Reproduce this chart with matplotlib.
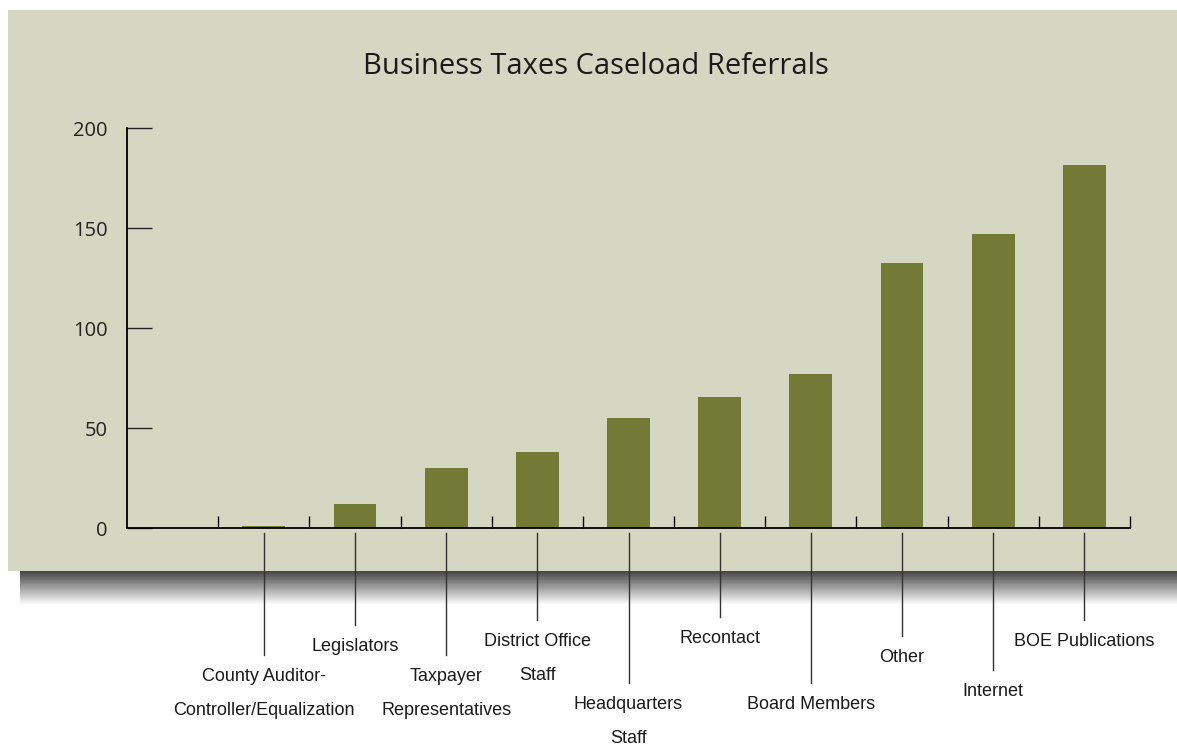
import matplotlib
matplotlib.use("Agg")
import matplotlib.pyplot as plt
import numpy as np

W, H = 1177, 750

# data
categories = ["County Auditor-\nController/Equalization", "Legislators", "Taxpayer\nRepresentatives",
              "District Office\nStaff", "Headquarters\nStaff", "Recontact", "Board Members",
              "Other", "Internet", "BOE Publications"]
values = [1, 12, 30, 38, 55, 65.5, 77, 132.5, 147, 181.5]
# where each leader line ends (pixel rows in the reference)
leader_end = [655, 625, 655, 620, 683, 617, 683, 636, 670, 620]
yticks = [0, 50, 100, 150, 200]

panel_color = "#d6d7c2"
bar_color = "#737a36"
narrow = ["Liberation Sans Narrow", "Liberation Sans", "DejaVu Sans"]

fig = plt.figure(figsize=(W / 100, H / 100), dpi=100)
fig.patch.set_facecolor("white")

# shadow under the panel
sh = fig.add_axes([20 / W, 1 - 605 / H, 1, 35 / H])
grad = np.linspace(0.25, 1.0, 50).reshape(-1, 1)
sh.imshow(grad, aspect="auto", cmap="gray", vmin=0, vmax=1, extent=[0, 1, 0, 1])
sh.set_axis_off()

# panel
bg = fig.add_axes([8 / W, 1 - 571 / H, 1, (571 - 10) / H])
bg.set_facecolor(panel_color)
bg.set_xticks([])
bg.set_yticks([])
for s in bg.spines.values():
    s.set_visible(False)

x0, x1, yb, yt = 127, 1130, 528, 128
ax = fig.add_axes([x0 / W, 1 - yb / H, (x1 - x0) / W, (yb - yt) / H])
ax.set_facecolor("none")
pos = np.arange(1, len(categories) + 1)
ax.bar(pos, values, width=0.47, color=bar_color, zorder=2)
ax.set_xlim(-0.5, 10.5)
ax.set_ylim(0, 200)

for s in ["top", "right"]:
    ax.spines[s].set_visible(False)
ax.spines["left"].set_linewidth(1.3)
ax.spines["bottom"].set_linewidth(1.3)

ax.set_yticks(yticks)
ax.tick_params(axis="y", direction="in", length=18, width=1.0, pad=14, labelsize=14.5, colors="#222222")
for t in ax.get_yticklabels():
    t.set_family(["Open Sans", "DejaVu Sans"])
ax.set_xticks(np.arange(0.5, 11, 1.0))
ax.set_xticklabels([])
ax.tick_params(axis="x", direction="in", length=9, width=1.0)

# leader lines and labels under the panel
for i, (lab, end) in enumerate(zip(categories, leader_end)):
    ya = (yb - 533) / (yb - yt)
    ye = (yb - end) / (yb - yt)
    ax.plot([pos[i], pos[i]], [ya, ye], color="#333333", lw=1.0,
            transform=ax.get_xaxis_transform(), clip_on=False)
    ax.text(pos[i], (yb - end - 13) / (yb - yt), lab, transform=ax.get_xaxis_transform(),
            ha="center", va="top", fontsize=13, family=narrow, linespacing=2.3,
            color="#1a1a1a")

fig.text(596 / W, 1 - 67 / H, "Business Taxes Caseload Referrals", ha="center", va="center",
         fontsize=21, family=["Open Sans", "DejaVu Sans"], color="#1a1a1a")

fig.savefig("out.png", dpi=100)
